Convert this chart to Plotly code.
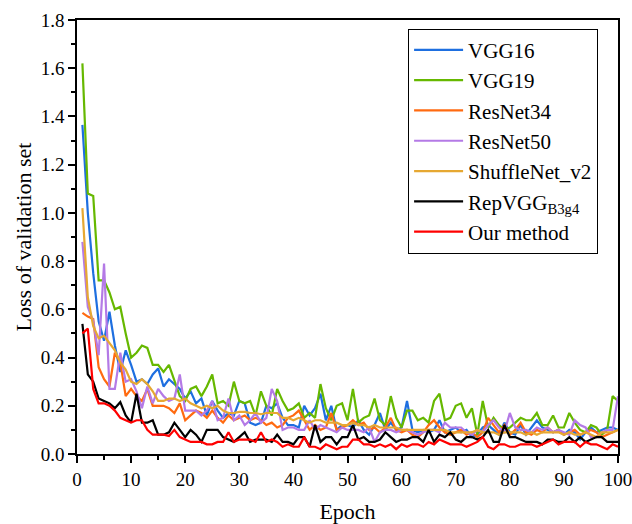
import plotly.graph_objects as go

epochs = list(range(1, 101))

vgg16 = [1.365, 1.00, 0.75, 0.55, 0.47, 0.59, 0.45, 0.34, 0.43, 0.37,
         0.30, 0.31, 0.29, 0.33, 0.355, 0.28, 0.31, 0.29, 0.27, 0.23,
         0.26, 0.21, 0.23, 0.16, 0.22, 0.18, 0.15, 0.17, 0.16, 0.22,
         0.21, 0.13, 0.12, 0.13, 0.20, 0.19, 0.21, 0.15, 0.12, 0.12,
         0.11, 0.20, 0.16, 0.19, 0.25, 0.14, 0.20, 0.10, 0.12, 0.12,
         0.11, 0.14, 0.10, 0.08, 0.12, 0.17, 0.10, 0.13, 0.10, 0.11,
         0.22, 0.10, 0.09, 0.10, 0.09, 0.10, 0.14, 0.09, 0.10, 0.11,
         0.09, 0.10, 0.07, 0.08, 0.11, 0.12, 0.10, 0.08, 0.13, 0.09,
         0.08, 0.12, 0.08, 0.11, 0.14, 0.11, 0.10, 0.09, 0.10, 0.08,
         0.10, 0.09, 0.06, 0.09, 0.11, 0.09, 0.10, 0.11, 0.11, 0.10]

vgg19 = [1.62, 1.08, 1.07, 0.72, 0.72, 0.67, 0.60, 0.61, 0.50, 0.40,
         0.42, 0.45, 0.44, 0.37, 0.37, 0.34, 0.37, 0.30, 0.24, 0.22,
         0.27, 0.28, 0.24, 0.28, 0.33, 0.21, 0.22, 0.20, 0.30, 0.22,
         0.21, 0.22, 0.16, 0.26, 0.20, 0.16, 0.27, 0.22, 0.18, 0.19,
         0.21, 0.15, 0.17, 0.15, 0.29, 0.19, 0.14, 0.20, 0.21, 0.14,
         0.27, 0.13, 0.15, 0.16, 0.23, 0.14, 0.12, 0.24, 0.15, 0.11,
         0.18, 0.18, 0.14, 0.15, 0.13, 0.22, 0.25, 0.14, 0.15, 0.20,
         0.21, 0.15, 0.19, 0.08, 0.22, 0.11, 0.15, 0.12, 0.10, 0.11,
         0.13, 0.15, 0.14, 0.14, 0.17, 0.12, 0.12, 0.16, 0.11, 0.11,
         0.17, 0.13, 0.10, 0.09, 0.12, 0.11, 0.08, 0.10, 0.24, 0.22]

resnet34 = [0.585, 0.57, 0.56, 0.36, 0.31, 0.28, 0.42, 0.38, 0.24, 0.27,
            0.24, 0.22, 0.27, 0.20, 0.20, 0.20, 0.19, 0.17, 0.21, 0.14,
            0.16, 0.18, 0.17, 0.15, 0.18, 0.15, 0.13, 0.16, 0.14, 0.15,
            0.16, 0.14, 0.15, 0.14, 0.12, 0.13, 0.11, 0.12, 0.15, 0.16,
            0.18, 0.14, 0.10, 0.12, 0.10, 0.11, 0.17, 0.10, 0.11, 0.12,
            0.14, 0.12, 0.13, 0.10, 0.11, 0.09, 0.11, 0.15, 0.10, 0.09,
            0.10, 0.08, 0.07, 0.09, 0.12, 0.14, 0.11, 0.09, 0.08, 0.09,
            0.10, 0.08, 0.09, 0.07, 0.09, 0.15, 0.12, 0.09, 0.12, 0.08,
            0.10, 0.13, 0.09, 0.08, 0.10, 0.09, 0.11, 0.09, 0.10, 0.08,
            0.09, 0.10, 0.08, 0.09, 0.10, 0.09, 0.07, 0.08, 0.09, 0.10]

resnet50 = [0.88, 0.61, 0.55, 0.41, 0.79, 0.27, 0.27, 0.42, 0.30, 0.31,
            0.26, 0.19, 0.28, 0.21, 0.27, 0.24, 0.22, 0.23, 0.33, 0.18,
            0.18, 0.18, 0.16, 0.18, 0.22, 0.14, 0.15, 0.23, 0.14, 0.16,
            0.12, 0.14, 0.17, 0.13, 0.15, 0.27, 0.22, 0.10, 0.11, 0.11,
            0.10, 0.10, 0.14, 0.10, 0.12, 0.11, 0.10, 0.09, 0.11, 0.10,
            0.10, 0.10, 0.09, 0.11, 0.05, 0.09, 0.10, 0.10, 0.09, 0.10,
            0.10, 0.09, 0.08, 0.09, 0.10, 0.10, 0.09, 0.13, 0.11, 0.11,
            0.11, 0.09, 0.08, 0.10, 0.09, 0.12, 0.14, 0.11, 0.09, 0.17,
            0.11, 0.10, 0.10, 0.09, 0.11, 0.10, 0.11, 0.09, 0.10, 0.09,
            0.08, 0.14, 0.12, 0.11, 0.07, 0.07, 0.09, 0.10, 0.10, 0.24]

shufflenet = [1.02, 0.65, 0.53, 0.48, 0.49, 0.46, 0.43, 0.38, 0.35, 0.30,
              0.29, 0.31, 0.29, 0.26, 0.22, 0.22, 0.23, 0.23, 0.22, 0.23,
              0.21, 0.20, 0.19, 0.20, 0.19, 0.20, 0.18, 0.17, 0.17, 0.175,
              0.175, 0.17, 0.17, 0.165, 0.17, 0.17, 0.17, 0.15, 0.15, 0.14,
              0.15, 0.14, 0.13, 0.14, 0.14, 0.13, 0.13, 0.13, 0.12, 0.12,
              0.13, 0.12, 0.12, 0.11, 0.12, 0.11, 0.11, 0.11, 0.11, 0.10,
              0.10, 0.10, 0.10, 0.10, 0.10, 0.10, 0.10, 0.10, 0.09, 0.09,
              0.09, 0.09, 0.09, 0.10, 0.09, 0.09, 0.09, 0.08, 0.09, 0.09,
              0.09, 0.09, 0.08, 0.09, 0.08, 0.09, 0.09, 0.09, 0.09, 0.08,
              0.09, 0.08, 0.08, 0.09, 0.08, 0.07, 0.09, 0.09, 0.09, 0.10]

repvgg = [0.54, 0.33, 0.30, 0.23, 0.22, 0.21, 0.19, 0.215, 0.16, 0.13,
          0.25, 0.13, 0.13, 0.14, 0.08, 0.08, 0.09, 0.13, 0.10, 0.07,
          0.10, 0.08, 0.05, 0.10, 0.10, 0.10, 0.07, 0.06, 0.05, 0.07,
          0.09, 0.05, 0.06, 0.06, 0.06, 0.05, 0.08, 0.05, 0.05, 0.04,
          0.07, 0.07, 0.03, 0.12, 0.05, 0.07, 0.07, 0.04, 0.07, 0.07,
          0.12, 0.06, 0.07, 0.05, 0.05, 0.06, 0.09, 0.07, 0.05, 0.06,
          0.06, 0.07, 0.07, 0.05, 0.10, 0.05, 0.08, 0.07, 0.09, 0.06,
          0.05, 0.07, 0.07, 0.06, 0.07, 0.10, 0.05, 0.05, 0.12, 0.07,
          0.07, 0.06, 0.05, 0.05, 0.05, 0.04, 0.06, 0.06, 0.05, 0.05,
          0.07, 0.05, 0.07, 0.05, 0.06, 0.07, 0.07, 0.05, 0.05, 0.05]

ours = [0.50, 0.52, 0.27, 0.21, 0.21, 0.20, 0.18, 0.15, 0.14, 0.13,
        0.14, 0.14, 0.10, 0.08, 0.08, 0.08, 0.075, 0.10, 0.07, 0.06,
        0.05, 0.05, 0.05, 0.04, 0.04, 0.05, 0.05, 0.09, 0.05, 0.06,
        0.06, 0.06, 0.05, 0.09, 0.05, 0.06, 0.05, 0.03, 0.04, 0.03,
        0.03, 0.07, 0.03, 0.03, 0.02, 0.04, 0.03, 0.02, 0.03, 0.03,
        0.06, 0.06, 0.04, 0.04, 0.03, 0.04, 0.03, 0.04, 0.02, 0.04,
        0.03, 0.04, 0.04, 0.03, 0.05, 0.04, 0.06, 0.05, 0.04, 0.04,
        0.04, 0.03, 0.04, 0.05, 0.07, 0.03, 0.02, 0.04, 0.04, 0.03,
        0.03, 0.04, 0.04, 0.04, 0.03, 0.04, 0.05, 0.06, 0.04, 0.05,
        0.05, 0.05, 0.03, 0.05, 0.04, 0.04, 0.03, 0.02, 0.04, 0.03]

series_names = ["VGG16", "VGG19", "ResNet34", "ResNet50", "ShuffleNet_v2",
                "RepVGG<sub>B3g4</sub>", "Our method"]
series_values = [vgg16, vgg19, resnet34, resnet50, shufflenet, repvgg, ours]
series_colors = ["#1E6FE0", "#66B800", "#FF6A10", "#B47AE6", "#E6A832",
                 "#000000", "#FF0000"]

FONT = "Times New Roman, Liberation Serif, DejaVu Serif, serif"

fig = go.Figure()
for name, vals, col in zip(series_names, series_values, series_colors):
    fig.add_trace(go.Scatter(x=epochs, y=vals, mode="lines", name=name,
                             line=dict(color=col, width=2.2)))

fig.update_layout(
    template="none",
    width=632, height=524,
    margin=dict(l=77, r=14, t=20, b=70, autoexpand=False),
    paper_bgcolor="white", plot_bgcolor="white",
    font=dict(family=FONT, color="black", size=18),
    showlegend=True,
    legend=dict(x=0.612, y=0.98, xanchor="left", yanchor="top",
                bordercolor="black", borderwidth=1,
                font=dict(family=FONT, size=21, color="black"),
                itemwidth=49, tracegroupgap=0, bgcolor="white"),
)
fig.update_xaxes(range=[0, 100], tickmode="linear", tick0=0, dtick=10,
                 automargin=False,
                 ticks="outside", ticklen=7, tickwidth=1.5, tickcolor="black",
                 minor=dict(ticks="outside", dtick=5, ticklen=4, tickwidth=1.5,
                            tickcolor="black", showgrid=False),
                 showline=True, linecolor="black", linewidth=1.5, mirror=True,
                 showgrid=False, zeroline=False, ticklabeloverflow="allow",
                 tickfont=dict(family=FONT, size=19),
                 title=dict(text="Epoch", font=dict(family=FONT, size=22),
                            standoff=18))
fig.update_yaxes(range=[0, 1.8], tickmode="linear", tick0=0, dtick=0.2,
                 tickformat=".1f", automargin=False,
                 ticks="outside", ticklen=7, tickwidth=1.5, tickcolor="black",
                 minor=dict(ticks="outside", dtick=0.1, ticklen=4, tickwidth=1.5,
                            tickcolor="black", showgrid=False),
                 showline=True, linecolor="black", linewidth=1.5, mirror=True,
                 showgrid=False, zeroline=False,
                 tickfont=dict(family=FONT, size=19),
                 title=dict(text="Loss of validation set",
                            font=dict(family=FONT, size=22), standoff=3))

fig.write_html("out.html", config={"displayModeBar": False},
               post_script="document.body.style.margin='0';")
